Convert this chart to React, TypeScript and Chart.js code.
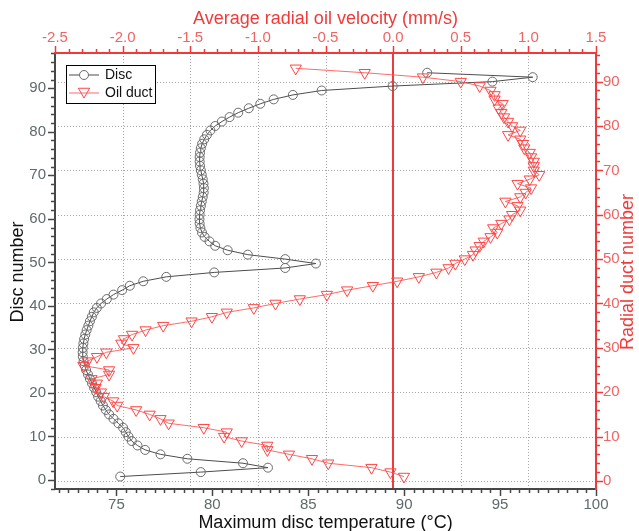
import React, { useEffect, useRef } from 'react';
import { Chart, registerables } from 'chart.js';
Chart.register(...registerables);

// ---------------- data ----------------
const discNumbers = [
  1, 2, 3, 4, 5, 6, 7, 8, 9, 10, 11, 12, 13, 14, 15, 16, 17, 18, 19, 20,
  21, 22, 23, 24, 25, 26, 27, 28, 29, 30, 31, 32, 33, 34, 35, 36, 37, 38, 39, 40,
  41, 42, 43, 44, 45, 46, 47, 48, 49, 50, 51, 52, 53, 54, 55, 56, 57, 58, 59, 60,
  61, 62, 63, 64, 65, 66, 67, 68, 69, 70, 71, 72, 73, 74, 75, 76, 77, 78, 79, 80,
  81, 82, 83, 84, 85, 86, 87, 88, 89, 90, 91, 92,
];
const discTemps = [
  75.2, 79.4, 82.9, 81.6, 78.7, 77.3, 76.5, 76.1, 75.8, 75.63,
  75.49, 75.35, 75.1, 74.85, 74.62, 74.45, 74.3, 74.18, 74.05, 73.95,
  73.84, 73.73, 73.62, 73.52, 73.42, 73.35, 73.29, 73.25, 73.24, 73.25,
  73.28, 73.32, 73.38, 73.45, 73.54, 73.62, 73.72, 73.82, 73.98, 74.2,
  74.5, 74.85, 75.3, 75.7, 76.4, 77.6, 80.1, 83.8, 85.4, 83.8,
  81.85, 80.8, 80.15, 79.85, 79.6, 79.46, 79.38, 79.34, 79.33, 79.34,
  79.36, 79.4, 79.45, 79.5, 79.55, 79.56, 79.54, 79.5, 79.45, 79.4,
  79.36, 79.34, 79.34, 79.36, 79.4, 79.47, 79.58, 79.72, 79.9, 80.15,
  80.5, 80.9, 81.35, 81.9, 82.5, 83.2, 84.2, 85.7, 89.4, 94.6,
  96.7, 91.2,
];
const ductNumbers = [
  1, 2, 3, 4, 5, 6, 7, 8, 9, 10, 11, 12, 13, 14, 15, 16, 17, 18, 19, 20,
  21, 22, 23, 24, 25, 26, 27, 28, 29, 30, 31, 32, 33, 34, 35, 36, 37, 38, 39, 40,
  41, 42, 43, 44, 45, 46, 47, 48, 49, 50, 51, 52, 53, 54, 55, 56, 57, 58, 59, 60,
  61, 62, 63, 64, 65, 66, 67, 68, 69, 70, 71, 72, 73, 74, 75, 76, 77, 78, 79, 80,
  81, 82, 83, 84, 85, 86, 87, 88, 89, 90, 91, 92, 93,
];
const ductVelocity = [
  0.08, -0.02, -0.16, -0.48, -0.6, -0.77, -0.93, -0.93, -1.12, -1.25,
  -1.23, -1.4, -1.66, -1.72, -1.8, -1.9, -2.04, -2.07, -2.14, -2.16,
  -2.2, -2.19, -2.23, -2.1, -2.1, -2.29, -2.26, -2.19, -2.12, -1.92,
  -2.01, -1.99, -1.93, -1.83, -1.7, -1.49, -1.34, -1.23, -1.03, -0.87,
  -0.69, -0.49, -0.34, -0.15, 0.03, 0.19, 0.32, 0.41, 0.46, 0.53,
  0.59, 0.61, 0.64, 0.67, 0.72, 0.77, 0.74, 0.8, 0.86, 0.88,
  0.94, 0.92, 0.83, 0.94, 0.98, 1.02, 0.92, 1.01, 1.08, 1.04,
  1.04, 1.04, 1.02, 1.01, 0.97, 0.96, 0.94, 0.85, 0.94, 0.88,
  0.85, 0.82, 0.8, 0.78, 0.81, 0.75, 0.75, 0.72, 0.64, 0.5,
  0.22, -0.21, -0.72,
];

const tempTicks = [75, 80, 85, 90, 95, 100];
const velocityTicks = [-2.5, -2.0, -1.5, -1.0, -0.5, 0.0, 0.5, 1.0, 1.5];
const discTicks = [0, 10, 20, 30, 40, 50, 60, 70, 80, 90];
const ductTicks = [0, 10, 20, 30, 40, 50, 60, 70, 80, 90];

const seriesNames = ['Disc', 'Oil duct'];
const axisTitles = {
  top: 'Average radial oil velocity (mm/s)',
  bottom: 'Maximum disc temperature (°C)',
  left: 'Disc number',
  right: 'Radial duct number',
};

// ---------------- style ----------------
const FONT = "'Liberation Sans', Arial, Helvetica, sans-serif";
const RED = '#f03a3a';
const RED_LABEL = '#f06464';
const DARK = '#474747';
const GRAY_LABEL = '#5f6a6c';
const DISC_LINE = '#4d4d4d';
const DISC_MARK = '#6b6b6b';
const DUCT_LINE = 'rgba(255,80,80,0.85)';
const DUCT_MARK = '#ff4545';

function line(ctx: CanvasRenderingContext2D, x1: number, y1: number, x2: number, y2: number) {
  ctx.beginPath();
  ctx.moveTo(x1, y1);
  ctx.lineTo(x2, y2);
  ctx.stroke();
}

function tri(ctx: CanvasRenderingContext2D, x: number, y: number, r: number) {
  // downward triangle centred on its centroid, like Chart.js 'triangle' rotated 180
  const h = Math.sqrt(3) / 2 * r;
  ctx.beginPath();
  ctx.moveTo(x, y + r);
  ctx.lineTo(x - h, y - r / 2);
  ctx.lineTo(x + h, y - r / 2);
  ctx.closePath();
  ctx.stroke();
}

const decor = {
  id: 'decor',
  beforeDatasetsDraw(chart: any) {
    const { ctx, chartArea: a, scales } = chart;
    const xT = scales.x2;
    const yR = scales.y2;
    ctx.save();
    ctx.strokeStyle = '#a6a6a6';
    ctx.lineWidth = 1;
    ctx.setLineDash([1, 2]);
    for (const v of velocityTicks) {
      if (v === 0 || v <= xT.min || v >= xT.max) continue;
      const px = Math.round(xT.getPixelForValue(v)) + 0.5;
      line(ctx, px, a.top, px, a.bottom);
    }
    for (const v of ductTicks) {
      const py = Math.round(yR.getPixelForValue(v)) + 0.5;
      line(ctx, a.left, py, a.right, py);
    }
    ctx.setLineDash([]);
    ctx.strokeStyle = RED;
    ctx.lineWidth = 2;
    const z = Math.round(xT.getPixelForValue(0));
    line(ctx, z, a.top, z, a.bottom);
    ctx.restore();
  },
  afterDatasetsDraw(chart: any) {
    const { ctx, chartArea: a, scales } = chart;
    const xB = scales.x, xT = scales.x2, yL = scales.y, yR = scales.y2;
    const MAJ = 7, MIN = 4;
    ctx.save();
    ctx.lineWidth = 1.5;
    // left axis
    ctx.strokeStyle = DARK;
    for (let i = -1; i <= 49; i++) {
      const v = i * 2;
      if (v < yL.min || v > yL.max) continue;
      const len = v % 10 === 0 ? MAJ : MIN;
      const py = Math.round(yL.getPixelForValue(v)) + 0.5;
      line(ctx, a.left, py, a.left - len, py);
    }
    // bottom axis
    for (let i = 143; i <= 200; i++) {
      const v = i / 2;
      if (v < xB.min || v > xB.max) continue;
      const len = i % 10 === 0 ? MAJ : MIN;
      const px = Math.round(xB.getPixelForValue(v)) + 0.5;
      line(ctx, px, a.bottom, px, a.bottom + len);
    }
    ctx.lineWidth = 2;
    line(ctx, a.left, a.top, a.left, a.bottom + 1);
    line(ctx, a.left - 1, a.bottom, a.right, a.bottom);
    // top axis
    ctx.strokeStyle = RED;
    ctx.lineWidth = 1.5;
    for (let i = -25; i <= 15; i++) {
      const v = i / 10;
      const len = i % 5 === 0 ? MAJ : MIN;
      const px = Math.round(xT.getPixelForValue(v)) + 0.5;
      line(ctx, px, a.top, px, a.top - len);
    }
    // right axis
    for (let i = 0; i <= 49; i++) {
      const v = i * 2;
      if (v < yR.min || v > yR.max) continue;
      const len = v % 10 === 0 ? MAJ : MIN;
      const py = Math.round(yR.getPixelForValue(v)) + 0.5;
      line(ctx, a.right, py, a.right + len, py);
    }
    ctx.lineWidth = 2;
    line(ctx, a.left - 1, a.top, a.right + 1, a.top);
    line(ctx, a.right, a.top, a.right, a.bottom + 1);
    ctx.restore();
  },
  afterDraw(chart: any) {
    const { ctx, chartArea: a } = chart;
    ctx.save();
    // legend
    const lx = 66.5, ly = 65.5, lw = 89, lh = 38;
    ctx.fillStyle = '#ffffff';
    ctx.fillRect(lx, ly, lw, lh);
    ctx.strokeStyle = '#000000';
    ctx.lineWidth = 1;
    ctx.strokeRect(lx, ly, lw, lh);
    const r1 = 75, r2 = 93;
    ctx.strokeStyle = DISC_LINE;
    line(ctx, 69, r1, 99, r1);
    ctx.fillStyle = '#fff';
    ctx.strokeStyle = DISC_MARK;
    ctx.beginPath();
    ctx.arc(84, r1, 4.5, 0, Math.PI * 2);
    ctx.fill();
    ctx.stroke();
    ctx.strokeStyle = DUCT_LINE;
    line(ctx, 69, r2, 99, r2);
    ctx.strokeStyle = DUCT_MARK;
    tri(ctx, 84, r2 - 1.5, 6.5);
    ctx.fillStyle = '#111';
    ctx.font = `14px ${FONT}`;
    ctx.textAlign = 'left';
    ctx.textBaseline = 'middle';
    ctx.fillText(seriesNames[0], 105, r1);
    ctx.fillText(seriesNames[1], 105, r2);
    // axis titles
    const cx = (a.left + a.right) / 2;
    ctx.font = `18px ${FONT}`;
    ctx.textAlign = 'center';
    ctx.textBaseline = 'middle';
    ctx.fillStyle = RED;
    ctx.fillText(axisTitles.top, cx, 19);
    ctx.fillStyle = '#111';
    ctx.fillText(axisTitles.bottom, cx, 523);
    ctx.save();
    ctx.translate(18, 272);
    ctx.rotate(-Math.PI / 2);
    ctx.fillText(axisTitles.left, 0, 0);
    ctx.restore();
    ctx.save();
    ctx.translate(628, 272);
    ctx.rotate(-Math.PI / 2);
    ctx.fillStyle = RED;
    ctx.fillText(axisTitles.right, 0, 0);
    ctx.restore();
    ctx.restore();
  },
};

const tickFont = { family: FONT, size: 15 };

export default function App() {
  const ref = useRef<HTMLCanvasElement>(null);
  useEffect(() => {
    if (!ref.current) return;
    const discPoints = discNumbers.map((n, i) => ({ x: discTemps[i], y: n }));
    const ductPoints = ductNumbers.map((n, i) => ({ x: ductVelocity[i], y: n }));
    const chart = new Chart(ref.current, {
      type: 'scatter',
      data: {
        datasets: [
          {
            label: seriesNames[1],
            data: ductPoints,
            xAxisID: 'x2',
            yAxisID: 'y2',
            showLine: true,
            borderColor: DUCT_LINE,
            borderWidth: 1,
            pointStyle: 'triangle',
            rotation: 180,
            pointRadius: 6.5,
            pointBorderColor: DUCT_MARK,
            pointBorderWidth: 1,
            pointBackgroundColor: 'rgba(0,0,0,0)',
            tension: 0,
          } as any,
          {
            label: seriesNames[0],
            data: discPoints,
            xAxisID: 'x',
            yAxisID: 'y2',
            showLine: true,
            borderColor: DISC_LINE,
            borderWidth: 1,
            pointStyle: 'circle',
            pointRadius: 4.5,
            pointBorderColor: DISC_MARK,
            pointBorderWidth: 1,
            pointBackgroundColor: 'rgba(0,0,0,0)',
            tension: 0,
          } as any,
        ],
      },
      options: {
        animation: false,
        responsive: false,
        devicePixelRatio: 1,
        layout: { padding: 0 },
        plugins: { legend: { display: false }, tooltip: { enabled: false } },
        scales: {
          x: {
            type: 'linear',
            position: 'bottom',
            min: 71.8,
            max: 100,
            afterBuildTicks: (s: any) => { s.ticks = tempTicks.map((v) => ({ value: v })); },
            afterFit: (s: any) => { s.height = 42; },
            grid: { display: false, drawTicks: false },
            border: { display: false },
            ticks: { color: GRAY_LABEL, font: tickFont, padding: 7, maxRotation: 0, autoSkip: false, callback: (v: any) => String(v) },
          },
          x2: {
            type: 'linear',
            position: 'top',
            min: -2.5,
            max: 1.5,
            afterBuildTicks: (s: any) => { s.ticks = velocityTicks.map((v) => ({ value: v })); },
            afterFit: (s: any) => { s.height = 53; },
            grid: { display: false, drawTicks: false },
            border: { display: false },
            ticks: { color: RED_LABEL, font: tickFont, padding: 6, maxRotation: 0, autoSkip: false, callback: (v: any) => Number(v).toFixed(1) },
          },
          y: {
            type: 'linear',
            position: 'left',
            min: -2.07,
            max: 98.1,
            afterBuildTicks: (s: any) => { s.ticks = discTicks.map((v) => ({ value: v })); },
            afterFit: (s: any) => { s.width = 55; },
            grid: { display: false, drawTicks: false },
            border: { display: false },
            ticks: { color: GRAY_LABEL, font: tickFont, padding: 9, autoSkip: false, callback: (v: any) => String(v) },
          },
          y2: {
            type: 'linear',
            position: 'right',
            min: -1.81,
            max: 96.45,
            afterBuildTicks: (s: any) => { s.ticks = ductTicks.map((v) => ({ value: v })); },
            afterFit: (s: any) => { s.width = 43; },
            grid: { display: false, drawTicks: false },
            border: { display: false },
            ticks: { color: RED_LABEL, font: tickFont, padding: 7, autoSkip: false, callback: (v: any) => String(v) },
          },
        },
      },
      plugins: [decor],
    } as any);
    return () => chart.destroy();
  }, []);
  return (
    <div style={{ position: 'absolute', left: 0, top: 0, width: 639, height: 531, background: '#ffffff' }}>
      <canvas ref={ref} width={639} height={531} style={{ display: 'block', width: 639, height: 531 }} />
    </div>
  );
}
